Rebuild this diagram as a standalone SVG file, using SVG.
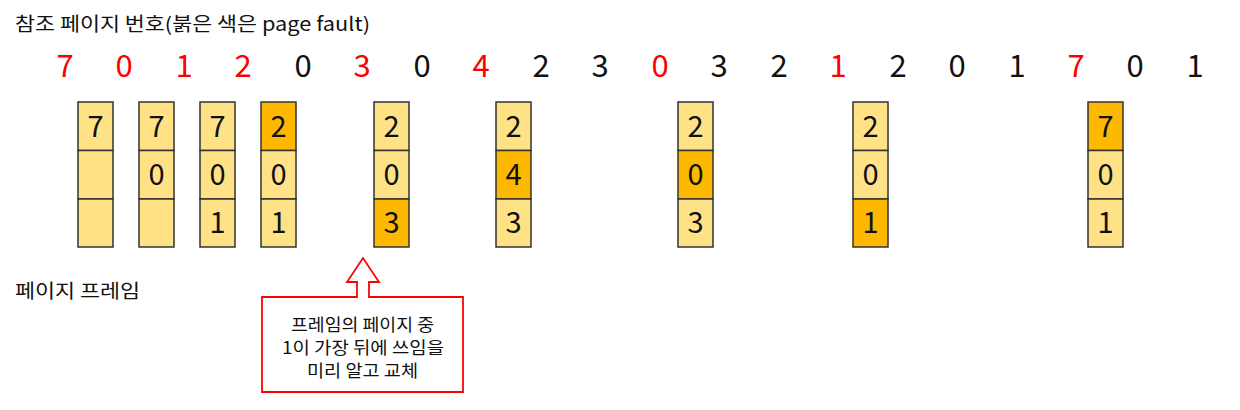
<svg xmlns="http://www.w3.org/2000/svg" width="1240" height="410" viewBox="0 0 1240 410">
<style>
text{font-family:"Noto Sans CJK KR","Noto Sans",sans-serif;fill:#111}
.t{font-size:19px}
.r{font-size:31px;text-anchor:middle}
.red{fill:#ff0000}
.c{fill:#ffe286;stroke:#333;stroke-width:1.5}
.h{fill:#ffb800;stroke:#333;stroke-width:1.5}
.d{font-size:29px;text-anchor:middle}
.n{font-size:17px;text-anchor:middle}
</style>
<rect width="1240" height="410" fill="#fff"/>
<text class="t" x="15" y="31" textLength="355" lengthAdjust="spacingAndGlyphs">참조 페이지 번호(붉은 색은 page fault)</text>
<g id="refs">
<text class="r red" x="65" y="77">7</text>
<text class="r red" x="124" y="77">0</text>
<text class="r red" x="184" y="77">1</text>
<text class="r red" x="243" y="77">2</text>
<text class="r" x="303" y="77">0</text>
<text class="r red" x="362" y="77">3</text>
<text class="r" x="422" y="77">0</text>
<text class="r red" x="481" y="77">4</text>
<text class="r" x="541" y="77">2</text>
<text class="r" x="600" y="77">3</text>
<text class="r red" x="660" y="77">0</text>
<text class="r" x="719" y="77">3</text>
<text class="r" x="779" y="77">2</text>
<text class="r red" x="838" y="77">1</text>
<text class="r" x="898" y="77">2</text>
<text class="r" x="957" y="77">0</text>
<text class="r" x="1017" y="77">1</text>
<text class="r red" x="1076" y="77">7</text>
<text class="r" x="1135" y="77">0</text>
<text class="r" x="1195" y="77">1</text>
</g>
<g id="f1">
<rect class="c" x="78" y="102" width="35" height="48.5"/><rect class="c" x="78" y="150.5" width="35" height="48.5"/><rect class="c" x="78" y="199" width="35" height="48"/>
<text class="d" x="95.5" y="137">7</text>
</g>
<g id="f2">
<rect class="c" x="139" y="102" width="35" height="48.5"/><rect class="c" x="139" y="150.5" width="35" height="48.5"/><rect class="c" x="139" y="199" width="35" height="48"/>
<text class="d" x="156.5" y="137">7</text><text class="d" x="156.5" y="185">0</text>
</g>
<g id="f3">
<rect class="c" x="200" y="102" width="35" height="48.5"/><rect class="c" x="200" y="150.5" width="35" height="48.5"/><rect class="c" x="200" y="199" width="35" height="48"/>
<text class="d" x="217.5" y="137">7</text><text class="d" x="217.5" y="185">0</text><text class="d" x="217.5" y="233">1</text>
</g>
<g id="f4">
<rect class="h" x="261" y="102" width="35" height="48.5"/><rect class="c" x="261" y="150.5" width="35" height="48.5"/><rect class="c" x="261" y="199" width="35" height="48"/>
<text class="d" x="278.5" y="137">2</text><text class="d" x="278.5" y="185">0</text><text class="d" x="278.5" y="233">1</text>
</g>
<g id="f5">
<rect class="c" x="374" y="102" width="35" height="48.5"/><rect class="c" x="374" y="150.5" width="35" height="48.5"/><rect class="h" x="374" y="199" width="35" height="48"/>
<text class="d" x="391.5" y="137">2</text><text class="d" x="391.5" y="185">0</text><text class="d" x="391.5" y="233">3</text>
</g>
<g id="f6">
<rect class="c" x="496" y="102" width="35" height="48.5"/><rect class="h" x="496" y="150.5" width="35" height="48.5"/><rect class="c" x="496" y="199" width="35" height="48"/>
<text class="d" x="513.5" y="137">2</text><text class="d" x="513.5" y="185">4</text><text class="d" x="513.5" y="233">3</text>
</g>
<g id="f7">
<rect class="c" x="678" y="102" width="35" height="48.5"/><rect class="h" x="678" y="150.5" width="35" height="48.5"/><rect class="c" x="678" y="199" width="35" height="48"/>
<text class="d" x="695.5" y="137">2</text><text class="d" x="695.5" y="185">0</text><text class="d" x="695.5" y="233">3</text>
</g>
<g id="f8">
<rect class="c" x="853" y="102" width="35" height="48.5"/><rect class="c" x="853" y="150.5" width="35" height="48.5"/><rect class="h" x="853" y="199" width="35" height="48"/>
<text class="d" x="870.5" y="137">2</text><text class="d" x="870.5" y="185">0</text><text class="d" x="870.5" y="233">1</text>
</g>
<g id="f9">
<rect class="h" x="1088" y="102" width="35" height="48.5"/><rect class="c" x="1088" y="150.5" width="35" height="48.5"/><rect class="c" x="1088" y="199" width="35" height="48"/>
<text class="d" x="1105.5" y="137">7</text><text class="d" x="1105.5" y="185">0</text><text class="d" x="1105.5" y="233">1</text>
</g>
<text class="t" x="15" y="298" textLength="125" lengthAdjust="spacingAndGlyphs">페이지 프레임</text>
<g id="callout">
<path d="M262 297 L357 297 L357 282 L347 282 L363 258 L379 282 L369 282 L369 297 L463 297 L463 392 L262 392 Z" fill="#fff" stroke="#ff0000" stroke-width="1.8"/>
<text class="n" x="362.5" y="331" textLength="143" lengthAdjust="spacingAndGlyphs">프레임의 페이지 중</text>
<text class="n" x="363" y="354" textLength="162" lengthAdjust="spacingAndGlyphs">1이 가장 뒤에 쓰임을</text>
<text class="n" x="362.5" y="377" textLength="111" lengthAdjust="spacingAndGlyphs">미리 알고 교체</text>
</g>
</svg>
